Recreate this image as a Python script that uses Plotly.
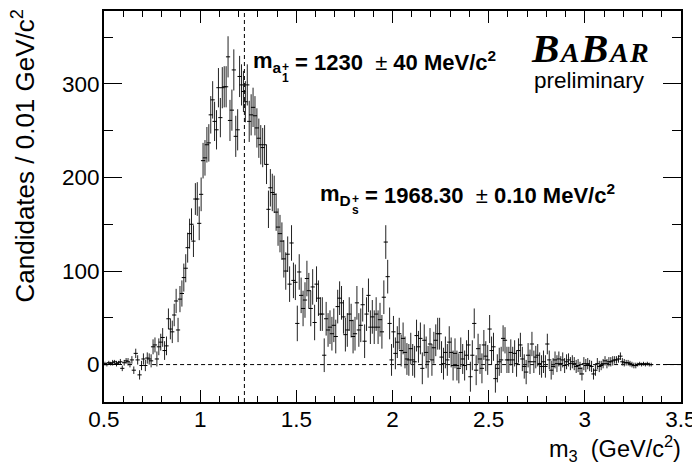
import plotly.graph_objects as go

# Histogram binning (GeV/c^2)
BIN_LO = 0.50
BIN_W = 0.01

# Candidates per bin, bins starting at 0.50
counts = [
    # 0.50 - 0.72
    1, 0, 2, 1, 2, 3, 1, 2, 3, -4, 2, 4, 3, 0, 5, -6, 12, 5, -11, -1, 6, -1, 7,
    # 0.73 - 0.93
    6, 4, 19, 21, 6, 19, 24, 29, 15, 20, 49, 38, 35, 53, 68, 37, 70, 76, 93, 103, 125,
    # 0.94 - 1.35
    140, 150, 132, 177, 177, 151, 182, 218, 221, 235, 237, 267, 283, 260, 251, 296, 264, 296, 297, 297,
    329, 261, 272, 315, 244, 251, 308, 299, 292, 281, 299, 260, 267, 275, 266, 253, 242, 235, 232, 235,
    214, 166,
    # 1.36 - 1.99
    189, 184, 182, 163, 147, 140, 132, 113, 100, 118, 86, 130, 90, 88, 44, 99, 74, 60, 69, 92,
    79, 60, 83, 45, 86, 71, 54, 54, 10, 49, 37, 40, 33, 42, 30, 62, 71, 66, 51, 32,
    37, 54, 47, 30, 33, 66, 37, 42, 64, 25, 54, 74, 40, 51, 40, 54, 40, 48, 35, 72,
    131, 94, 44, 5,
    # 2.00 - 2.80
    35, 12, 24, 33, 15, 28, 13, 6, 5, 17, 5, 3, 31, 19, 28, -4, 26, 13, 3, 22,
    5, 18, 26, 33, 33, 8, 1, 13, 5, 24, 13, -1, 12, -1, -4, 13, 6, -1, 10, 21,
    -13, 10, 44, -6, 17, 6, -4, 21, 9, 5, 38, 15, 19, -15, -4, 3, 5, 28, 26, 5,
    5, 13, 5, 12, 1, 15, 21, 6, -2, -8, 10, 3, 22, 3, 8, 10, 1, -2, 3, -2, 22,
    # 2.81 - 3.34
    5, -6, -2, 5, 1, 6, 1, 5, -1, 3, 5, 1, 3, 1, -2, -1, -4, -10, 1, -1,
    1, -1, -2, -10, -6, 1, -2, -1, 1, 4, 1, 3, 3, 4, 5, 5, 6, 9, 3, 2,
    2, 2, 1, 0, -1, -1, 0, 1, 0, 1, 0, 1, 0, 0,
]

# Statistical errors per bin
errors = [
    2, 2, 2, 2, 3, 2, 3, 2, 3, 3, 3, 3, 4, 3, 4, 4, 5, 5, 5, 5, 6, 6, 6,
    6, 7, 8, 8, 8, 9, 9, 10, 10, 10, 11, 11, 12, 12, 13, 13, 14, 14, 15, 15, 16,
    16, 17, 17, 17, 18, 18, 18, 19, 19, 19, 20, 20, 20, 21, 21, 21, 21, 22, 22, 22,
    22, 22, 22, 22, 22, 22, 22, 22, 22, 22, 22, 22, 22, 21, 21, 21, 21, 21, 21, 21,
    21, 20,
    20, 20, 20, 20, 20, 20, 20, 20, 20, 19, 19, 19, 19, 19, 19, 19, 19, 19, 19, 19,
    19, 19, 19, 19, 19, 19, 18, 18, 18, 18, 18, 18, 18, 18, 18, 18, 18, 18, 18, 18,
    18, 18, 18, 18, 18, 18, 18, 18, 18, 18, 18, 18, 18, 18, 18, 18, 18, 18, 18, 18,
    18, 18, 17, 17,
    17, 17, 17, 17, 17, 17, 17, 17, 17, 17, 17, 17, 17, 17, 17, 17, 17, 17, 17, 17,
    17, 17, 17, 17, 17, 17, 17, 17, 17, 17, 16, 16, 16, 16, 16, 16, 16, 16, 16, 16,
    16, 16, 16, 16, 16, 16, 16, 16, 16, 16, 15, 15, 15, 15, 15, 15, 14, 14, 14, 14,
    14, 14, 14, 14, 14, 13, 13, 13, 13, 13, 13, 13, 13, 12, 12, 12, 12, 12, 12, 12, 11,
    10, 10, 9, 9, 9, 8, 8, 8, 8, 8, 7, 7, 7, 7, 7, 7, 7, 7, 7, 7,
    6, 6, 6, 6, 6, 6, 6, 5, 5, 5, 5, 5, 5, 5, 4, 4, 4, 4, 4, 4,
    3, 3, 3, 3, 3, 3, 2, 2, 2, 2, 2, 2, 2, 2,
]

centers = [BIN_LO + BIN_W * (i + 0.5) for i in range(len(counts))]

# Reference lines
M_A1 = 1.23          # GeV/c^2, vertical dashed line
ZERO_LINE_X = [0.75, 3.5]

X_RANGE = [0.5, 3.5]
Y_RANGE = [-40, 378]
x_ticks = [0.5, 1, 1.5, 2, 2.5, 3, 3.5]
y_ticks = [0, 100, 200, 300]

FONT = "Liberation Sans"
NB = "\u00a0"

fig = go.Figure()
fig.add_trace(go.Scatter(
    x=centers, y=counts, mode="markers",
    marker=dict(symbol="line-ew", size=3, color="black",
                line=dict(width=1, color="black")),
    error_y=dict(type="data", array=errors, visible=True,
                 color="#222222", thickness=1, width=0),
    showlegend=False, hoverinfo="skip",
))

fig.add_shape(type="line", xref="x", yref="paper", x0=M_A1, x1=M_A1, y0=0, y1=1,
              line=dict(color="black", width=1, dash="4px,3px"), layer="below")
fig.add_shape(type="line", xref="x", yref="y", x0=ZERO_LINE_X[0], x1=ZERO_LINE_X[1], y0=0, y1=0,
              line=dict(color="black", width=1, dash="4px,3px"), layer="below")

axis_common = dict(
    showline=True, linewidth=2, linecolor="black", mirror="ticks",
    ticks="inside", tickcolor="black", tickwidth=1,
    showgrid=False, zeroline=False,
    tickfont=dict(family=FONT, size=22.5, color="black"),
)

fig.update_xaxes(range=X_RANGE, tickvals=x_ticks, ticktext=[str(v) for v in x_ticks],
                 ticklen=12, ticklabelstandoff=-4,
                 minor=dict(dtick=0.1, tick0=0.5, ticklen=6, ticks="inside",
                            tickcolor="black", tickwidth=1, showgrid=False),
                 **axis_common)
fig.update_yaxes(range=Y_RANGE, tickvals=y_ticks, ticklen=18, ticklabelstandoff=-2,
                 minor=dict(dtick=50, tick0=0, ticklen=9, ticks="inside",
                            tickcolor="black", tickwidth=1, showgrid=False),
                 **axis_common)

# page is shown with an 8px body margin, so the figure is shifted
W, H = 700, 468
PL, PR, PT, PB = 104, 681, 9, 402      # plot frame in page pixels
OFF = 8
L = PL - OFF
T = PT - OFF
PW, PH = PR - PL, PB - PT
R = W - L - PW
B = H - T - PH


def px(xp):
    return (xp - PL) / PW


def py(yp):
    return (PB - yp) / PH


ann = []
bold = dict(family=FONT, size=22, color="black")
small = dict(family=FONT, size=12, color="black")
# a1 mass label
ann.append(dict(text="<b>m<sub>a</sub></b>", x=px(251), y=py(60), xanchor="left", yanchor="middle", font=bold))
ann.append(dict(text="<b>+</b>", x=px(285), y=py(65), xanchor="center", yanchor="middle", font=small))
ann.append(dict(text="<b>1</b>", x=px(285), y=py(76), xanchor="center", yanchor="middle", font=small))
ann.append(dict(text="<b>=" + NB + "1230</b>" + NB + NB + "\u00b1" + NB + "<b>40 MeV/c<sup>2</sup></b>",
                x=px(293), y=py(59), xanchor="left", yanchor="middle", font=bold))
# Ds mass label
ann.append(dict(text="<b>m<sub>D</sub></b>", x=px(318), y=py(194), xanchor="left", yanchor="middle", font=bold))
ann.append(dict(text="<b>+</b>", x=px(355), y=py(198), xanchor="center", yanchor="middle", font=small))
ann.append(dict(text="<b>s</b>", x=px(355), y=py(209), xanchor="center", yanchor="middle", font=small))
ann.append(dict(text="<b>=" + NB + "1968.30</b>" + NB + NB + "\u00b1" + NB + "<b>0.10 MeV/c<sup>2</sup></b>",
                x=px(363), y=py(193), xanchor="left", yanchor="middle", font=bold))
# BaBar logo
ann.append(dict(text="<b><i><span style='letter-spacing:1.5px'>B<span style='font-size:28px'>A</span>B"
                     "<span style='font-size:28px'>AR</span></span></i></b>",
                x=px(652), y=py(46), xanchor="right", yanchor="middle",
                font=dict(family="Liberation Serif", size=41, color="black")))
ann.append(dict(text="preliminary", x=px(647), y=py(79), xanchor="right", yanchor="middle",
                font=dict(family=FONT, size=22.5, color="black")))
# axis titles
ann.append(dict(text="m<sub>3</sub>" + NB + NB + "(GeV/c<sup>2</sup>)", x=px(683), y=py(449),
                xanchor="right", yanchor="middle",
                font=dict(family=FONT, size=23.5, color="black")))
ann.append(dict(text="Candidates / 0.01 GeV/c<sup>2</sup>", x=px(24), y=py(6), xanchor="center", yanchor="top",
                textangle=-90, font=dict(family=FONT, size=26, color="black")))

for a in ann:
    a.update(xref="paper", yref="paper", showarrow=False)
fig.update_layout(annotations=ann)

fig.update_layout(
    width=W, height=H, margin=dict(l=L, r=R, t=T, b=B),
    plot_bgcolor="white", paper_bgcolor="white",
)

fig.write_html("out.html")
